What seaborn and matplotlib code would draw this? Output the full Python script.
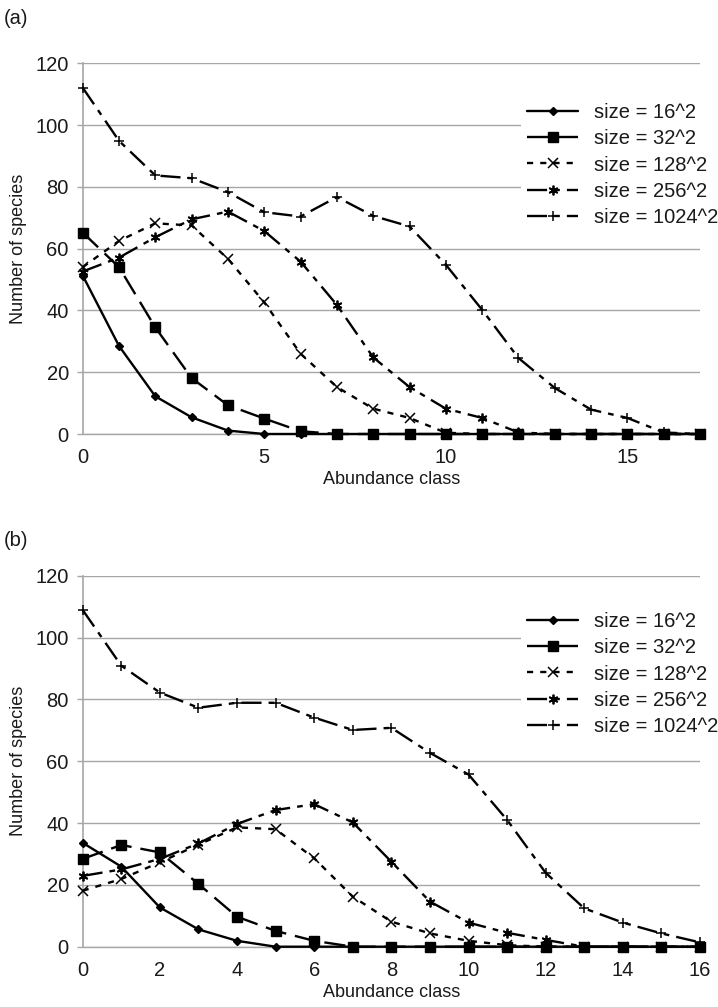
import matplotlib
matplotlib.use("Agg")
import matplotlib.pyplot as plt
import seaborn as sns
import numpy as np
import pandas as pd

# ---------------- data ----------------
series_names = ["size = 16^2", "size = 32^2", "size = 128^2", "size = 256^2", "size = 1024^2"]

x_a = list(range(0, 18))
a_16 = [51.3, 28.5, 12.2, 5.4, 1.1, 0, 0, 0, 0, 0, 0, 0, 0, 0, 0, 0, 0, 0]
a_32 = [65.2, 54.0, 34.5, 18.1, 9.3, 5.0, 0.9, 0, 0, 0, 0, 0, 0, 0, 0, 0, 0, 0]
a_128 = [54.0, 62.5, 68.2, 67.5, 56.7, 42.6, 26.0, 15.2, 8.2, 5.2, 0.4, 0, 0, 0, 0, 0, 0, 0]
a_256 = [52.6, 57.1, 63.7, 69.5, 72.0, 65.7, 55.8, 41.8, 24.8, 15.2, 8.2, 5.2, 0.5, 0, 0, 0, 0, 0]
a_1024 = [112.1, 94.9, 83.7, 82.8, 78.3, 71.8, 70.4, 76.7, 70.6, 67.2, 54.8, 40.2, 24.6, 14.9, 7.9, 5.2, 0.5, 0]

x_b = list(range(0, 17))
b_16 = [33.6, 25.9, 12.7, 5.6, 1.9, 0, 0, 0, 0, 0, 0, 0, 0, 0, 0, 0, 0]
b_32 = [28.4, 32.9, 30.5, 20.3, 9.7, 5.1, 1.9, 0, 0, 0, 0, 0, 0, 0, 0, 0, 0]
b_128 = [18.1, 21.9, 27.3, 33.0, 38.6, 38.0, 28.6, 16.2, 8.1, 4.3, 1.9, 0.5, 0, 0, 0, 0, 0]
b_256 = [22.9, 25.0, 28.4, 33.4, 39.7, 44.2, 46.1, 40.2, 27.5, 14.6, 7.8, 4.5, 2.2, 0, 0, 0, 0]
b_1024 = [108.9, 90.9, 82.2, 77.3, 78.9, 78.9, 74.1, 70.1, 70.8, 62.7, 55.7, 41.0, 23.9, 12.4, 7.8, 4.3, 1.4]

y_ticks = [0, 20, 40, 60, 80, 100, 120]
x_ticks_a = [0, 5, 10, 15]
x_ticks_b = [0, 2, 4, 6, 8, 10, 12, 14, 16]

# ---------------- style ----------------
sns.set_theme(style="white")
plt.rcParams["font.family"] = ["Liberation Sans", "DejaVu Sans"]

styles = [
    dict(marker="D", ms=4.0, ls="-", mew=1.0, mfc="black"),
    dict(marker="s", ms=6.5, ls=(0, (9.0, 3.8)), mew=1.0, mfc="black"),
    dict(marker="x", ms=6.5, ls=(0, (2.6, 3.0)), mew=1.1, mfc="black"),
    dict(marker=(6, 2, 0), ms=7.0, ls=(0, (8.5, 3.0, 2.4, 3.0)), mew=1.3, mfc="black"),
    dict(marker="+", ms=7.5, ls=(0, (8.5, 3.0, 2.4, 3.0)), mew=1.1, mfc="black"),
]

W, H = 718, 1007
fig = plt.figure(figsize=(W / 100, H / 100), dpi=100)

def fx(px):
    return px / W

def fy(py):
    return 1 - py / H

grid_col = "#a6a6a6"
text_col = "#1a1a1a"

def make_panel(rect, xs, ys_list, xlim, xticks, legend_anchor, letter, letter_pos):
    ax = fig.add_axes(rect)
    for name, ys, st in zip(series_names, ys_list, styles):
        df = pd.DataFrame({"x": xs, "y": ys})
        sns.lineplot(data=df, x="x", y="y", ax=ax, color="black", lw=1.7,
                     marker=st["marker"], markersize=st["ms"], markeredgewidth=st["mew"],
                     markerfacecolor=st["mfc"], markeredgecolor="black",
                     linestyle=st["ls"], label=name, clip_on=False, zorder=3)
    ax.set_xlim(*xlim)
    ax.set_ylim(0, 120)
    ax.set_yticks(y_ticks)
    ax.set_xticks(xticks)
    ax.yaxis.grid(True, color=grid_col, lw=1.0)
    ax.xaxis.grid(False)
    for s in ["top", "right"]:
        ax.spines[s].set_visible(False)
    ax.spines["left"].set_color(grid_col)
    ax.spines["left"].set_linewidth(1.2)
    ax.spines["bottom"].set_color(grid_col)
    ax.spines["bottom"].set_linewidth(1.0)
    ax.tick_params(axis="y", which="major", left=True, length=4, width=1.0, color=grid_col,
                   labelsize=14.5, labelcolor=text_col, pad=6)
    ax.tick_params(axis="x", which="major", bottom=False, length=0,
                   labelsize=14.5, labelcolor=text_col, pad=10)
    ax.set_xlabel("Abundance class", fontsize=13, color=text_col, labelpad=3)
    ax.set_ylabel("Number of species", fontsize=13, color=text_col, labelpad=6)
    leg = ax.legend(loc="upper left", bbox_to_anchor=legend_anchor, bbox_transform=fig.transFigure,
                    frameon=True, fancybox=False, framealpha=1.0, facecolor="white",
                    edgecolor="white", fontsize=14.5, handlelength=2.55, handletextpad=0.75,
                    labelspacing=0.36, borderpad=0.3, borderaxespad=0, numpoints=1)
    leg.get_frame().set_linewidth(0)
    for t in leg.get_texts():
        t.set_color(text_col)
    leg.set_zorder(5)
    fig.text(letter_pos[0], letter_pos[1], letter, fontsize=14.5, color=text_col,
             ha="left", va="center")
    return ax

left = fx(82.7)
width = fx(700) - left
rect_a = [left, fy(434), width, fy(63.3) - fy(434)]
rect_b = [left, fy(946.7), width, fy(575.7) - fy(946.7)]

make_panel(rect_a, x_a, [a_16, a_32, a_128, a_256, a_1024], (0, 17), x_ticks_a,
           (fx(521), fy(97)), "(a)", (fx(4), fy(18)))
make_panel(rect_b, x_b, [b_16, b_32, b_128, b_256, b_1024], (0, 16), x_ticks_b,
           (fx(521), fy(606)), "(b)", (fx(4), fy(540)))

fig.savefig("out.png", dpi=100)
